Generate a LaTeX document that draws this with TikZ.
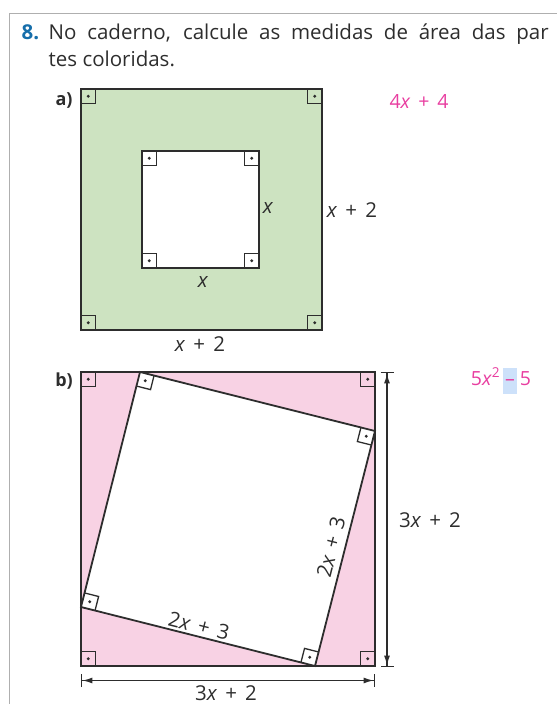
\documentclass[tikz,border=0pt]{standalone}
\usepackage{fontspec}
\setmainfont{Open Sans}
\usetikzlibrary{calc, arrows.meta}

\definecolor{greenfill}{RGB}{205,227,193}
\definecolor{pinkfill}{RGB}{248,210,228}
\definecolor{answer}{RGB}{232,62,160}
\definecolor{numblue}{RGB}{22,110,170}
\definecolor{hilite}{RGB}{205,225,250}
\definecolor{linecol}{RGB}{45,45,45}
\definecolor{framecol}{RGB}{175,175,175}

\newcommand{\pls}{\hspace{.4em}+\hspace{.4em}}
\newcommand{\rtmark}[3]{%
  \coordinate (p) at ($(#1)!14.5pt!(#2)$);
  \coordinate (q) at ($(#1)!14.5pt!(#3)$);
  \draw [rtline] (p) -- ($(p)+(q)-(#1)$) -- (q);
  \fill [linecol] ($(p)!.5!(q)$) circle (1.6pt);
}

\begin{document}
\begin{tikzpicture}[
    x=1pt, y=-1pt,
    edge/.style={draw=linecol, line width=1.8pt, line join=miter},
    rtline/.style={draw=linecol, line width=1.3pt},
    dim/.style={draw=linecol, line width=1.4pt, {Bar[width=13pt]Latex[length=10pt,width=6pt]}-{Latex[length=10pt,width=6pt]Bar[width=13pt]}},
    lbl/.style={font=\fontsize{20.5}{24}\selectfont, text=linecol, inner sep=1pt},
    ans/.style={font=\fontsize{19.5}{22}\selectfont, text=answer, inner sep=1pt},
    part/.style={font=\bfseries\fontsize{18}{20}\selectfont, text=linecol, inner sep=1pt},
    title/.style={font=\fontsize{20.5}{24}\selectfont, text=linecol, inner sep=0pt, anchor=base west}
]
\useasboundingbox (0,0) rectangle (557,704);

\draw [framecol, line width=1pt] (9,704) -- (9,13.5) -- (557,13.5);

\node [title, font=\bfseries\fontsize{20.5}{24}\selectfont, text=numblue] (num) at (21.5,39.5) {8.};
\node [title] (line1) at (48.5,39.5) {\makebox[500pt][s]{No caderno, calcule as medidas de área das par}};
\node [title] (line2) at (48.5,66) {tes coloridas.};

% a)
\coordinate (oa1) at (81,89);  \coordinate (oa2) at (322,89);
\coordinate (oa3) at (322,330); \coordinate (oa4) at (81,330);
\coordinate (ia1) at (142,151); \coordinate (ia2) at (259,151);
\coordinate (ia3) at (259,268); \coordinate (ia4) at (142,268);

\path [edge, fill=greenfill] (oa1) rectangle (oa3);
\path [edge, fill=white] (ia1) rectangle (ia3);

\node [part] (parta) at (64,100) {a)};
\node [lbl] (xin1) at (268,208) {\textit{x}};
\node [lbl] (xin2) at (203,282) {\textit{x}};
\node [lbl] (xout1) at (352,210) {\textit{x}\pls2};
\node [lbl] (xout2) at (200,344) {\textit{x}\pls2};
\node [ans] (ansa) at (419,102) {4\textit{x}\pls4};

% b)
\coordinate (ob1) at (81,372);  \coordinate (ob2) at (375,372);
\coordinate (ob3) at (375,666); \coordinate (ob4) at (81,666);
\coordinate (tb1) at (140,372); \coordinate (tb2) at (375,431);
\coordinate (tb3) at (315,666); \coordinate (tb4) at (81,607);

\path [edge, fill=pinkfill] (ob1) rectangle (ob3);
\path [edge, fill=white] (tb1) -- (tb2) -- (tb3) -- (tb4) -- cycle;

\foreach \s in {oa,ia,ob,tb} {
  \rtmark{\s1}{\s2}{\s4}
  \rtmark{\s2}{\s3}{\s1}
  \rtmark{\s3}{\s4}{\s2}
  \rtmark{\s4}{\s1}{\s3}
}

\coordinate (vtop) at (387,372);  \coordinate (vbot) at (387,667);
\coordinate (hleft) at (81,680.5); \coordinate (hright) at (375,680.5);
\path [dim] (vtop) -- (vbot);
\path [dim] (hleft) -- (hright);

\node [part] (partb) at (64,381) {b)};
\node [lbl, rotate=-14.2] (side1) at (199,626) {2\textit{x}\pls3};
\node [lbl, rotate=75.7] (side2) at (331,547) {2\textit{x}\pls3};
\node [lbl] (height) at (430,520) {3\textit{x}\pls2};
\node [lbl, inner sep=0pt, text depth=0pt] (width) at (226,693) {3\textit{x}\pls2};
\node [ans] (ansb) at (501,381) {5\textit{x}\textsuperscript{2}\hspace{.15em}{\setlength{\fboxsep}{2pt}\colorbox{hilite}{\strut –}}\hspace{.15em}5};

\end{tikzpicture}
\end{document}
